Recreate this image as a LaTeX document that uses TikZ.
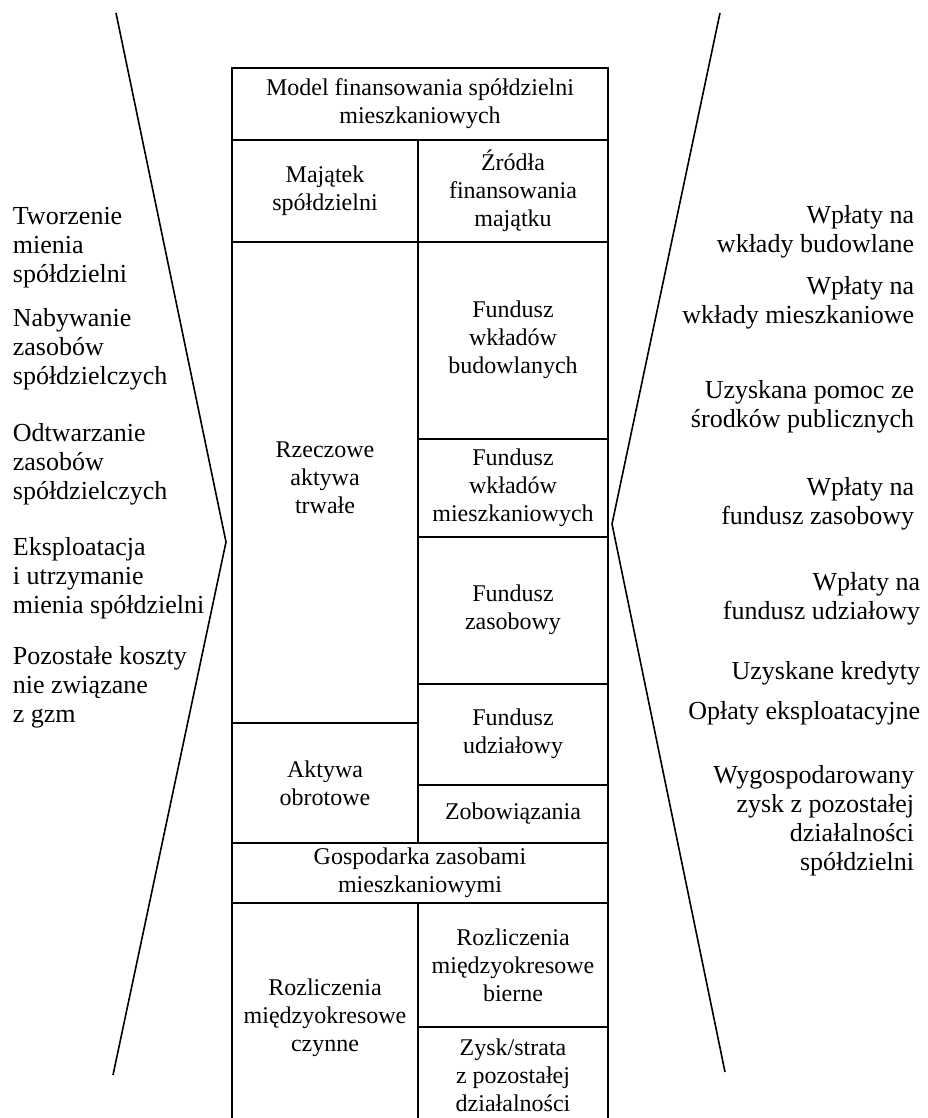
\documentclass[tikz,border=0pt]{standalone}
\usepackage{fontspec}
\setmainfont{Liberation Serif}
\tikzset{
  cell/.style={align=center,inner sep=0pt,font=\fontsize{12}{14}\selectfont},
  lefttxt/.style={anchor=west,align=left,inner sep=0pt,font=\fontsize{13}{14.5}\selectfont},
  righttxt/.style={anchor=east,align=right,inner sep=0pt,font=\fontsize{13}{14.5}\selectfont}
}
\begin{document}
\begin{tikzpicture}[x=0.5pt,y=-0.5pt,line width=0.9pt]
    \useasboundingbox (0,0) rectangle (927,1118);
    % table
    \draw (232,1118)--(232,68)--(608,68)--(608,1118);
    \draw (232,140)--(608,140);
    \draw (232,242)--(608,242);
    \draw (418,140)--(418,843);
    \draw (418,903)--(418,1118);
    \foreach \y in {439,537,684,785,1027}
    \draw (418,\y)--(608,\y);
    \draw (232,723)--(418,723);
    \draw (232,843)--(608,843);
    \draw (232,903)--(608,903);
    \node[cell] (model) at (420,104) {Model finansowania spółdzielni\\mieszkaniowych};
    \node[cell] (majatek) at (325,191) {Majątek\\spółdzielni};
    \node[cell] (zrodla) at (513,191) {Źródła\\finansowania\\majątku};
    \node[cell] (rzeczowe) at (325,478) {Rzeczowe\\aktywa\\trwałe};
    \node[cell] (fbud) at (513,340) {Fundusz\\wkładów\\budowlanych};
    \node[cell] (fmiesz) at (513,488) {Fundusz\\wkładów\\mieszkaniowych};
    \node[cell] (fzas) at (513,610) {Fundusz\\zasobowy};
    \node[cell] (fudz) at (513,734) {Fundusz\\udziałowy};
    \node[cell] (aobr) at (325,783) {Aktywa\\obrotowe};
    \node[cell] (zobow) at (513,814) {Zobowiązania};
    \node[cell] (gosp) at (420,873) {Gospodarka zasobami\\mieszkaniowymi};
    \node[cell] (rmbierne) at (513,965) {Rozliczenia\\międzyokresowe\\bierne};
    \node[cell] (rmczynne) at (325,1018) {Rozliczenia\\międzyokresowe\\czynne};
    \node[cell] (zysk) at (513,1075) {Zysk/strata\\z pozostałej\\działalności};
    % left side
    \node[lefttxt] (tworz) at (12,248) {Tworzenie\\mienia\\spółdzielni};
    \node[lefttxt] (nabyw) at (12,349) {Nabywanie\\zasobów\\spółdzielczych};
    \node[lefttxt] (odtw) at (12,464) {Odtwarzanie\\zasobów\\spółdzielczych};
    \node[lefttxt] (eksp) at (12,578) {Eksploatacja\\i utrzymanie\\mienia spółdzielni};
    \node[lefttxt] (pozost) at (12,687) {Pozostałe koszty\\nie związane\\z gzm};
    % right side
    \node[righttxt] (wbud) at (915,232) {Wpłaty na\\wkłady budowlane};
    \node[righttxt] (wmiesz) at (915,303) {Wpłaty na\\wkłady mieszkaniowe};
    \node[righttxt] (pomoc) at (915,407) {Uzyskana pomoc ze\\środków publicznych};
    \node[righttxt] (wzas) at (915,504) {Wpłaty na\\fundusz zasobowy};
    \node[righttxt] (wudz) at (921,599) {Wpłaty na\\fundusz udziałowy};
    \node[righttxt] (kred) at (921,673) {Uzyskane kredyty};
    \node[righttxt] (oplaty) at (921,713) {Opłaty eksploatacyjne};
    \node[righttxt] (wygosp) at (915,821) {Wygospodarowany\\zysk z pozostałej\\działalności\\spółdzielni};
    % wedges
    \coordinate (ltop) at (116,13);
    \coordinate (lapex) at (226,542);
    \coordinate (lbot) at (113,1075);
    \coordinate (rtop) at (720,13);
    \coordinate (rapex) at (612,524);
    \coordinate (rbot) at (725,1072);
    \draw[line width=0.8pt] (ltop)--(lapex)--(lbot);
    \draw[line width=0.8pt] (rtop)--(rapex)--(rbot);
\end{tikzpicture}
\end{document}
